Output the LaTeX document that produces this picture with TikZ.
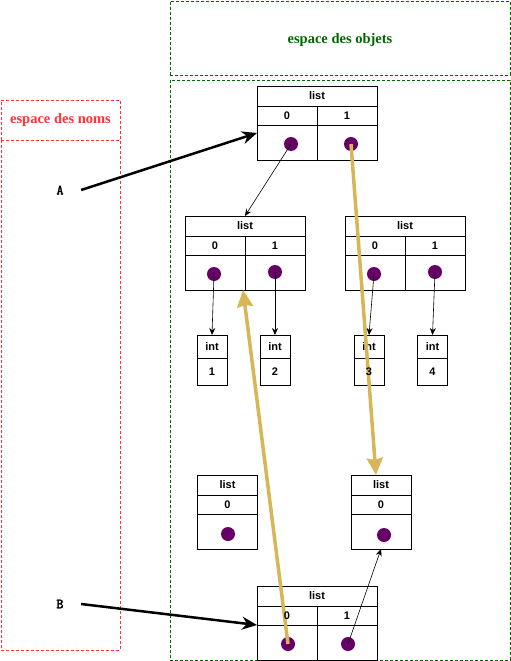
\documentclass[tikz,border=0pt]{standalone}
\usepackage{fontspec}
\setmainfont{Liberation Serif}
\setsansfont{Liberation Sans}
\newfontfamily\namefont[FakeBold=2.5]{Latin Modern Mono}
\usepackage{xcolor}
\usetikzlibrary{arrows.meta}
\definecolor{objgreen}{RGB}{0,102,0}
\definecolor{nomred}{RGB}{255,51,51}
\definecolor{ptrpurple}{RGB}{102,0,102}
\definecolor{refgold}{RGB}{214,182,86}
\tikzset{
	cellbox/.style={draw, line width=1pt, inner sep=0, outer sep=0, font=\sffamily\bfseries\fontsize{11}{13}\selectfont},
	hd/.style={cellbox, minimum height=20},
	idx/.style={cellbox, minimum width=60, minimum height=19},
	slot/.style={cellbox, minimum width=60, minimum height=35},
	intbox/.style={cellbox, minimum width=30, minimum height=23},
	intval/.style={cellbox, minimum width=30, minimum height=27},
	ptr/.style={circle, fill=ptrpurple, minimum size=14, inner sep=0},
	zone/.style={dash pattern=on 3pt off 2pt, line width=0.8pt},
	zonetitle/.style={font=\bfseries\fontsize{14.5}{17}\selectfont},
	varname/.style={font=\namefont\fontsize{14}{16}\selectfont},
	thin arrow/.style={-{Stealth[length=7pt, width=6pt]}, line width=0.6pt},
	name arrow/.style={-{Stealth[length=15pt, width=13pt]}, line width=2.5pt},
	ref arrow/.style={-{Stealth[length=17pt, width=16pt, inset=2pt]}, refgold, line width=3.5pt}
}

\begin{document}
\begin{tikzpicture}[x=1pt, y=-1pt]
		\useasboundingbox (0,0) rectangle (511,661);

		% zones
		\node[draw=objgreen, zone, minimum width=340, minimum height=74] (objets) at (340,38) {};
		\node[zonetitle, text=objgreen] (objtxt) at (340,40) {espace des objets};
		\draw[objgreen, zone] (170,80) rectangle (510,660);
		\node[draw=nomred, zone, zonetitle, minimum width=119, minimum height=40, text=nomred] (noms) at (60.5,120) {espace des noms};
		\draw[nomred, zone] (1,140) rectangle (120,650);

		\node[varname] (A) at (60,190) {A};
		\node[varname] (B) at (60,604) {B};

		% liste A
		\node[hd, minimum width=120] (tl) at (317,96) {list};
		\node[idx, anchor=north west] (tl0) at (tl.south west) {0};
		\node[idx, anchor=north east] (tl1) at (tl.south east) {1};
		\node[slot, anchor=north] (tls0) at (tl0.south) {};
		\node[slot, anchor=north] (tls1) at (tl1.south) {};
		\node[ptr] (td0) at (291,144) {};
		\node[ptr] (td1) at (351,144) {};

		% sous-listes
		\node[hd, minimum width=120] (ml) at (245,226) {list};
		\node[idx, anchor=north west] (ml0) at (ml.south west) {0};
		\node[idx, anchor=north east] (ml1) at (ml.south east) {1};
		\node[slot, anchor=north] (mls0) at (ml0.south) {};
		\node[slot, anchor=north] (mls1) at (ml1.south) {};
		\node[ptr] (md0) at (214,274) {};
		\node[ptr] (md1) at (275,272) {};

		\node[hd, minimum width=120] (mr) at (405,226) {list};
		\node[idx, anchor=north west] (mr0) at (mr.south west) {0};
		\node[idx, anchor=north east] (mr1) at (mr.south east) {1};
		\node[slot, anchor=north] (mrs0) at (mr0.south) {};
		\node[slot, anchor=north] (mrs1) at (mr1.south) {};
		\node[ptr] (nd0) at (374,274) {};
		\node[ptr] (nd1) at (435,272) {};

		% entiers
		\node[intbox] (i1) at (212,346.5) {int};
		\node[intval, anchor=north] (v1) at (i1.south) {1};
		\node[intbox] (i2) at (275,346.5) {int};
		\node[intval, anchor=north] (v2) at (i2.south) {2};
		\node[intbox] (i3) at (369,346.5) {int};
		\node[intval, anchor=north] (v3) at (i3.south) {};
		\node[intbox] (i4) at (432.5,346.5) {int};
		\node[intval, anchor=north] (v4) at (i4.south) {4};

		% listes a un element
		\node[hd, minimum width=60] (bl) at (227.5,485) {list};
		\node[idx, anchor=north] (bl0) at (bl.south) {0};
		\node[slot, anchor=north] (bls) at (bl0.south) {};
		\node[ptr] (bld) at (228,534) {};

		\node[hd, minimum width=60] (br) at (381,485) {list};
		\node[idx, anchor=north] (br0) at (br.south) {0};
		\node[slot, anchor=north] (brs) at (br0.south) {};
		\node[ptr] (brd) at (384,535) {};

		% liste B
		\node[hd, minimum width=120] (bb) at (317,596) {list};
		\node[idx, anchor=north west] (bb0) at (bb.south west) {};
		\node[idx, anchor=north east] (bb1) at (bb.south east) {1};
		\node[slot, anchor=north] (bbs0) at (bb0.south) {};
		\node[slot, anchor=north] (bbs1) at (bb1.south) {};
		\node[ptr] (bd0) at (288,644) {};
		\node[ptr] (bd1) at (348,644) {};

		% references
		\draw[name arrow] ([xshift=14pt]A.east) -- ([yshift=-8pt]tl0.south west);
		\draw[name arrow] ([xshift=14pt]B.east) -- (bb0.south west);

		\draw[thin arrow] (td0.center) -- (ml.north);
		\draw[thin arrow] (md0.center) -- (i1.north);
		\draw[thin arrow] (md1.center) -- (i2.north);
		\draw[thin arrow] (nd0.center) -- (i3.north);
		\draw[thin arrow] (nd1.center) -- (i4.north);
		\draw[thin arrow] (bd1.center) -- (brs.south);

		\draw[ref arrow] (td1.center) -- ([xshift=-5pt]br.north);
		\draw[ref arrow] (bd0.center) -- ([xshift=-2pt]mls0.south east);

		% chiffres au-dessus des fleches
		\node[cellbox, draw=none] (v3txt) at (v3.center) {3};
		\node[cellbox, draw=none] (bb0txt) at (bb0.center) {0};
	\end{tikzpicture}
\end{document}
